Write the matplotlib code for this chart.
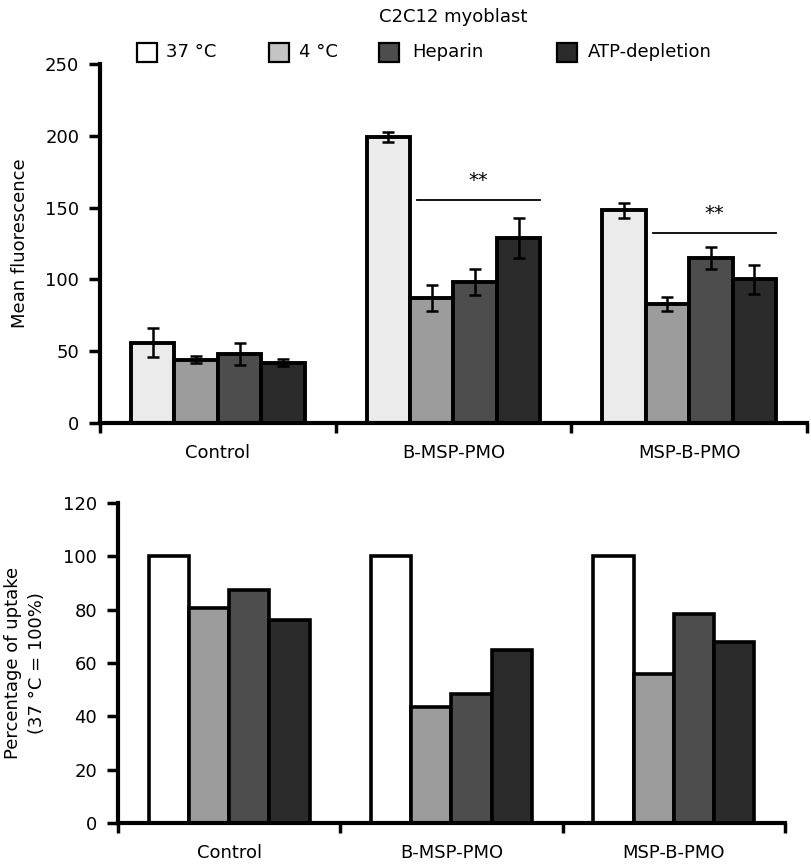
import numpy as np
import matplotlib
matplotlib.use('Agg')
from matplotlib import pyplot as plt
from matplotlib.patches import Rectangle

plt.rcParams['font.family'] = 'DejaVu Sans'
plt.rcParams['font.size'] = 13

groups = ['Control', 'B-MSP-PMO', 'MSP-B-PMO']
conditions = ['37 °C', '4 °C', 'Heparin', 'ATP-depletion']

# mean fluorescence, rows = conditions, cols = groups
fluor = [[56, 199, 148],
         [44, 87, 83],
         [48, 98, 115],
         [42, 129, 100]]
fluor_err = [[10, 3.5, 5],
             [2.5, 9, 5],
             [7.5, 9, 7.5],
             [2.5, 14, 10]]

# percentage of uptake relative to 37 °C
uptake = [[100, 100, 100],
          [80.5, 43.5, 56],
          [87.5, 48.5, 78.5],
          [76, 65, 68]]

sig_y = [155, 132]          # ** bar heights for B-MSP-PMO and MSP-B-PMO
sig_txt_y = [169, 146]

top_colors = ['#ebebeb', '#9c9c9c', '#4d4d4d', '#2b2b2b']
bot_colors = ['#ffffff', '#9c9c9c', '#4d4d4d', '#2b2b2b']
leg_colors = ['#ffffff', '#c4c4c4', '#4d4d4d', '#2b2b2b']

W, H = 812, 865
fig = plt.figure(figsize=(W / 100, H / 100), dpi=100)
ax1 = fig.add_axes([100 / W, 1 - 423 / H, 707 / W, 359 / H])
ax2 = fig.add_axes([118 / W, 1 - 823 / H, 667 / W, 320 / H])

x = np.arange(len(groups))


def style(ax, ymax, step):
    for s in ['top', 'right']:
        ax.spines[s].set_visible(False)
    for s in ['left', 'bottom']:
        ax.spines[s].set_linewidth(3)
    ax.set_xlim(0, 3)
    ax.set_ylim(0, ymax)
    ax.set_yticks(np.arange(0, ymax + 1, step))
    ax.set_xticks([0, 1, 2, 3])
    ax.set_xticklabels([])
    ax.set_xticks(x + 0.5, minor=True)
    ax.set_xticklabels(groups, minor=True)
    ax.tick_params(axis='x', which='major', length=7, width=2.5, direction='out')
    ax.tick_params(axis='x', which='minor', length=0, pad=15, labelsize=13)
    ax.tick_params(axis='y', length=8, width=2.5, pad=7, labelsize=13)


# top panel
w = 0.184
for j in range(4):
    pos = x + 0.5 + (j - 1.5) * w
    ax1.bar(pos, fluor[j], w, color=top_colors[j], edgecolor='black', linewidth=2.8, zorder=2)
    ax1.errorbar(pos, fluor[j], yerr=fluor_err[j], fmt='none', ecolor='black',
                 elinewidth=1.8, capsize=4.5, capthick=1.8, zorder=3)

for k, g in enumerate([1, 2]):
    x0 = g + 0.5 - w + 0.03
    x1 = g + 0.5 + 2 * w
    ax1.plot([x0, x1], [sig_y[k], sig_y[k]], color='black', lw=1.3)
    ax1.text((x0 + x1) / 2, sig_txt_y[k], '**', ha='center', va='center', fontsize=14)

style(ax1, 250, 50)
ax1.set_ylabel('Mean fluorescence', fontsize=13)
ax1.yaxis.set_label_coords(-0.1, 0.5)

# bottom panel
w2 = 0.181
for j in range(4):
    pos = x + 0.5 + (j - 1.5) * w2
    ax2.bar(pos, uptake[j], w2, color=bot_colors[j], edgecolor='black', linewidth=2.6, zorder=2)

style(ax2, 120, 20)
ax2.set_ylabel('Percentage of uptake\n(37 °C = 100%)', fontsize=13, linespacing=1.4)
ax2.yaxis.set_label_coords(-0.108, 0.5)

# title and legend
fig.text(453 / W, 1 - 17 / H, 'C2C12 myoblast', ha='center', va='center', fontsize=13)
box_x = [137, 269, 379, 557]
txt_x = [166, 299, 412, 588]
for j in range(4):
    fig.patches.append(Rectangle((box_x[j] / W, 1 - 62 / H), 20 / W, 19 / H,
                                 transform=fig.transFigure, facecolor=leg_colors[j],
                                 edgecolor='black', linewidth=1.6))
    fig.text(txt_x[j] / W, 1 - 52 / H, conditions[j], ha='left', va='center', fontsize=13)

fig.savefig('out.png', dpi=100)
